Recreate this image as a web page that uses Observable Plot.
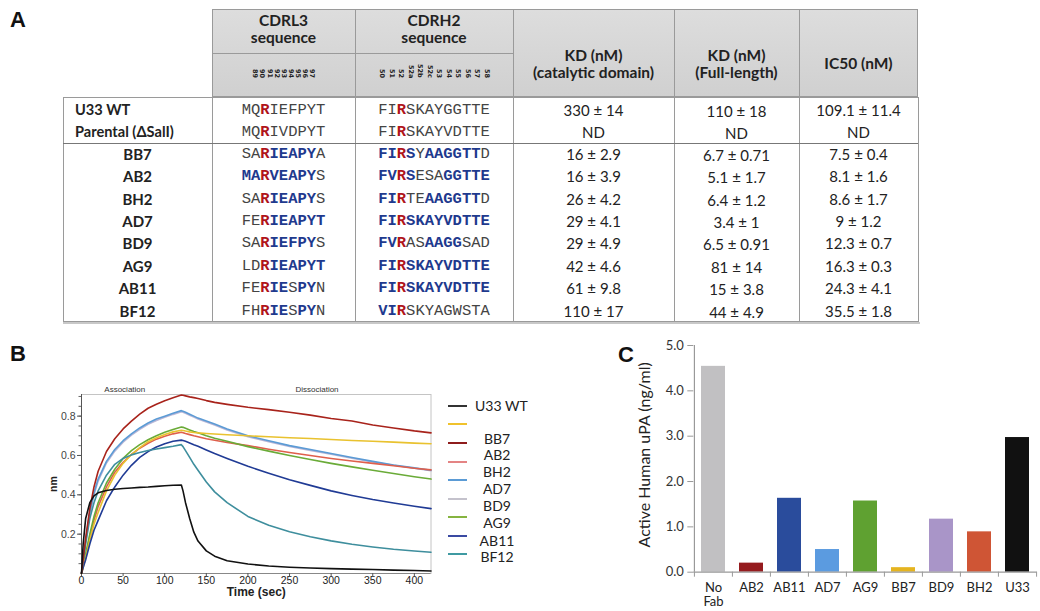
<!DOCTYPE html>
<html><head><meta charset="utf-8">
<script src="https://cdn.jsdelivr.net/npm/d3@7"></script>
<script src="https://cdn.jsdelivr.net/npm/@observablehq/plot@0.6"></script>
<style>
body{margin:0;background:#fff;}
#root{position:relative;width:1040px;height:611px;overflow:hidden;font-family:Lato,"Open Sans",sans-serif;color:#222;}
.abs{position:absolute;box-sizing:border-box;}
.letter{position:absolute;font-family:Arial,"Liberation Sans",sans-serif;font-weight:bold;font-size:22px;color:#111;line-height:1;}
.hdr{position:absolute;box-sizing:border-box;text-align:center;font-weight:bold;font-size:15.5px;line-height:17px;color:#222;}
.txt{position:absolute;height:22px;line-height:22px;white-space:nowrap;}
.seq{font-family:"Liberation Mono","Courier New",monospace;font-size:15.5px;color:#444;text-align:center;}
.r{color:#b0141b;font-weight:bold;}
.b{color:#1f3a8e;font-weight:bold;}
.num{display:inline-block;font-family:"DejaVu Sans",sans-serif;font-weight:bold;font-size:6.5px;writing-mode:vertical-rl;color:#222;line-height:1;}
.leg{position:absolute;font-family:Lato,"Open Sans",sans-serif;font-size:14px;color:#222;line-height:1;}
</style></head><body><div id="root"></div><script>
// ---------- Panel A data ----------
const clones = ["U33 WT","Parental (ΔSalI)","BB7","AB2","BH2","AD7","BD9","AG9","AB11","BF12"];
const cdrl3 = ["MQ[R]IEFPYT","MQ[R]IVDPYT","SA[R]{IEAPY}A","{MA}[R]{VEAPY}S","SA[R]{IEAPY}S","FE[R]{IEAPYT}","SA[R]{IEFPY}S","LD[R]{IEAPYT}","FE[R]{IE}S{PY}N","FH[R]{IE}S{PY}N"];
const cdrh2 = ["FI[R]SKAYGGTTE","FI[R]SKAYVDTTE","{FI}[R]{S}Y{AAGGTT}D","{FV}[R]{S}ESA{GGTTE}","{FI}[R]TE{AAGGTT}D","{FI}[R]{SKAYVDTTE}","{FV}[R]AS{AAGG}SAD","{FI}[R]{SKAYVDTTE}","{FI}[R]{SKAYVDTTE}","{VI}[R]SKYAGWSTA"];
const kdCatalytic = ["330 ± 14","ND","16 ± 2.9","16 ± 3.9","26 ± 4.2","29 ± 4.1","29 ± 4.9","42 ± 4.6","61 ± 9.8","110 ± 17"];
const kdFull = ["110 ± 18","ND","6.7 ± 0.71","5.1 ± 1.7","6.4 ± 1.2","3.4 ± 1","6.5 ± 0.91","81 ± 14","15 ± 3.8","44 ± 4.9"];
const ic50 = ["109.1 ± 11.4","ND","7.5 ± 0.4","8.1 ± 1.6","8.6 ± 1.7","9 ± 1.2","12.3 ± 0.7","16.3 ± 0.3","24.3 ± 4.1","35.5 ± 1.8"];
const l3Numbers = ["89","90","91","92","93","94","95","96","97"];
const h2Numbers = ["50","51","52","52a","52b","52c","53","54","55","56","57","58"];
const headers = ["CDRL3<br>sequence","CDRH2<br>sequence","KD (nM)<br>(catalytic domain)","KD (nM)<br>(Full-length)","IC50 (nM)"];

// ---------- Panel B data ----------
const times = [0,2,5,10,15,20,30,40,50,60,70,80,90,100,110,120,122,125,130,135,140,150,160,175,200,225,250,275,300,325,350,375,400,420];
const curveNames = ["AD7","BH2","AB2","AG9","Yellow","AB11","BF12","BB7","U33 WT"];
const curveColors = ["#b9b6d6","#5b9bd5","#df5f4c","#6aab38","#e9c22f","#203b95","#3e8e9d","#a8231b","#111111"];
const curveAD7 = [0,0.065,0.165,0.30,0.40,0.47,0.562,0.622,0.668,0.703,0.733,0.758,0.778,0.794,0.809,0.822,0.82,0.815,0.805,0.795,0.785,0.77,0.755,0.73,0.695,0.67,0.646,0.626,0.606,0.586,0.567,0.55,0.535,0.522];
const curveBH2 = [0,0.07,0.17,0.31,0.41,0.48,0.57,0.63,0.675,0.71,0.74,0.765,0.785,0.80,0.815,0.828,0.825,0.82,0.81,0.80,0.79,0.775,0.76,0.735,0.70,0.675,0.65,0.63,0.61,0.59,0.57,0.552,0.537,0.525];
const curveAB2 = [0,0.04,0.09,0.19,0.27,0.34,0.44,0.515,0.565,0.605,0.637,0.662,0.683,0.698,0.71,0.718,0.716,0.712,0.706,0.70,0.695,0.685,0.677,0.666,0.65,0.632,0.615,0.60,0.585,0.572,0.56,0.548,0.535,0.527];
const curveAG9 = [0,0.04,0.10,0.20,0.29,0.36,0.46,0.53,0.585,0.625,0.655,0.68,0.70,0.718,0.732,0.745,0.743,0.738,0.73,0.722,0.715,0.70,0.688,0.672,0.645,0.622,0.60,0.58,0.56,0.542,0.525,0.508,0.492,0.48];
const curveYellow = [0,0.03,0.08,0.17,0.25,0.31,0.42,0.50,0.56,0.605,0.64,0.67,0.69,0.707,0.72,0.728,0.727,0.724,0.72,0.717,0.715,0.712,0.709,0.705,0.70,0.695,0.69,0.686,0.681,0.676,0.672,0.668,0.663,0.66];
const curveAB11 = [0,0.03,0.07,0.15,0.22,0.27,0.37,0.44,0.50,0.55,0.59,0.62,0.643,0.66,0.672,0.678,0.676,0.672,0.664,0.655,0.647,0.628,0.61,0.585,0.545,0.51,0.477,0.448,0.42,0.397,0.376,0.358,0.342,0.33];
const curveBF12 = [0,0.06,0.15,0.28,0.36,0.42,0.50,0.555,0.585,0.603,0.615,0.625,0.633,0.64,0.647,0.655,0.645,0.625,0.59,0.555,0.525,0.465,0.415,0.36,0.29,0.245,0.212,0.187,0.166,0.149,0.135,0.123,0.114,0.108];
const curveBB7 = [0,0.07,0.18,0.33,0.44,0.52,0.62,0.685,0.735,0.775,0.81,0.84,0.86,0.878,0.893,0.907,0.906,0.903,0.898,0.894,0.89,0.879,0.87,0.86,0.845,0.833,0.82,0.805,0.788,0.775,0.755,0.74,0.725,0.715];
const curveU33 = [0,0.15,0.28,0.36,0.395,0.41,0.422,0.428,0.432,0.435,0.438,0.44,0.443,0.446,0.449,0.45,0.42,0.36,0.28,0.21,0.165,0.115,0.088,0.065,0.048,0.038,0.032,0.028,0.025,0.022,0.02,0.017,0.015,0.013];
const curveValues = [curveAD7,curveBH2,curveAB2,curveAG9,curveYellow,curveAB11,curveBF12,curveBB7,curveU33];
const xTicksB = [0,50,100,150,200,250,300,350,400];
const yTicksB = [0.2,0.4,0.6,0.8];
const yMinorB = [0.05,0.1,0.15,0.2,0.25,0.3,0.35,0.4,0.45,0.5,0.55,0.6,0.65,0.7,0.75,0.8,0.85,0.9];
const phaseLabels = [{t:52,label:"Association"},{t:283,label:"Dissociation"}];
const legendLabels = ["U33 WT","BB7","AB2","BH2","AD7","BD9","AG9","AB11","BF12"];
const legendColors = ["#333333","#f0c22c","#8e1c1c","#e48484","#5b9bd5","#c4c2cc","#86b440","#3a4aa2","#3f9aa2"];

// ---------- Panel C data ----------
const barCats = ["No Fab","AB2","AB11","AD7","AG9","BB7","BD9","BH2","U33"];
const barValues = [4.54,0.20,1.63,0.50,1.57,0.10,1.17,0.89,2.97];
const barColors = ["#c1c0c2","#951b1e","#2a4c9c","#5b9be0","#5fa131","#e5b420","#a995c8","#cf5535","#111111"];
const yTicksC = [0,1,2,3,4,5];

// ---------- build ----------
const root = document.getElementById("root");
function add(tag, cls, css, html){const e=document.createElement(tag); if(cls) e.className=cls; Object.assign(e.style,css||{}); if(html!=null) e.innerHTML=html; root.appendChild(e); return e;}
function seqHtml(s){return s.replace(/\[([A-Z]+)\]/g,'<span class="r">$1</span>').replace(/\{([A-Z]+)\}/g,'<span class="b">$1</span>');}

add("div","letter",{left:"10px",top:"9px"},"A");
add("div","letter",{left:"10px",top:"343px"},"B");
add("div","letter",{left:"618px",top:"344px"},"C");

const colX = [63,212,355,513,674,799,918];
const hTop = 9, hMid = 53, bTop = 97, sep = 143, bBot = 322;
const rowC = [109.5,132,153.5,176,198.5,221,243.3,265.7,288.2,310.5];
const lineC = "#9a9a9a";
add("div","abs",{left:colX[1]+"px",top:hTop+"px",width:(colX[6]-colX[1])+"px",height:(bTop-hTop)+"px",background:"linear-gradient(#dddddd,#d0d0d0)",border:"1px solid "+lineC});
for(let i=2;i<6;i++) add("div","abs",{left:colX[i]+"px",top:hTop+"px",width:"1px",height:(bTop-hTop)+"px",background:lineC});
add("div","abs",{left:colX[1]+"px",top:hMid+"px",width:(colX[3]-colX[1])+"px",height:"1px",background:lineC});
add("div","hdr",{left:colX[1]+"px",top:"12px",width:(colX[2]-colX[1])+"px"},headers[0]);
add("div","hdr",{left:colX[2]+"px",top:"12px",width:(colX[3]-colX[2])+"px"},headers[1]);
add("div","hdr",{left:colX[3]+"px",top:"47px",width:(colX[4]-colX[3])+"px"},headers[2]);
add("div","hdr",{left:colX[4]+"px",top:"47px",width:(colX[5]-colX[4])+"px"},headers[3]);
add("div","hdr",{left:colX[5]+"px",top:"55px",width:(colX[6]-colX[5])+"px"},headers[4]);
const n1 = add("div","abs",{left:colX[1]+"px",top:"62px",width:(colX[2]-colX[1])+"px",textAlign:"center"});
n1.innerHTML = l3Numbers.map(n=>`<span class="num" style="margin:0 0.3px">${n}</span>`).join("");
const n2 = add("div","abs",{left:colX[2]+"px",top:"62px",width:(colX[3]-colX[2])+"px",textAlign:"center"});
n2.innerHTML = h2Numbers.map(n=>`<span class="num" style="margin:0 1.5px">${n}</span>`).join("");
add("div","abs",{left:colX[0]+"px",top:bTop+"px",width:(colX[6]-colX[0]+1)+"px",height:(bBot-bTop)+"px",border:"1px solid "+lineC});
add("div","abs",{left:colX[0]+"px",top:bBot+"px",width:(colX[6]-colX[0]+2)+"px",height:"2px",background:"#c8c8c8"});
for(let i=1;i<6;i++) add("div","abs",{left:colX[i]+"px",top:bTop+"px",width:"1px",height:(bBot-bTop)+"px",background:lineC});
add("div","abs",{left:colX[0]+"px",top:sep+"px",width:(colX[6]-colX[0])+"px",height:"1px",background:"#777"});
clones.forEach((c,i)=>{
  const y = (rowC[i]-11)+"px";
  if(i<2) add("div","txt",{left:"75px",top:y,fontWeight:"bold",fontSize:"14.6px"},c);
  else add("div","txt",{left:colX[0]+"px",top:y,width:(colX[1]-colX[0])+"px",textAlign:"center",fontWeight:"bold",fontSize:"15px"},c);
  add("div","txt seq",{left:colX[1]+"px",top:y,width:(colX[2]-colX[1])+"px"},seqHtml(cdrl3[i]));
  add("div","txt seq",{left:colX[2]+"px",top:y,width:(colX[3]-colX[2])+"px"},seqHtml(cdrh2[i]));
  add("div","txt",{left:colX[3]+"px",top:y,width:(colX[4]-colX[3])+"px",textAlign:"center",fontSize:"15px"},kdCatalytic[i]);
  add("div","txt",{left:colX[4]+"px",top:(rowC[i]-10)+"px",width:(colX[5]-colX[4])+"px",textAlign:"center",fontSize:"15px"},kdFull[i]);
  add("div","txt",{left:colX[5]+"px",top:y,width:(colX[6]-colX[5])+"px",textAlign:"center",fontSize:"15px"},ic50[i]);
});

// ---------- Panel B ----------
const rowsB = curveNames.flatMap((n,i)=>times.map((t,j)=>({series:n,t,v:curveValues[i][j]})));
const plotB = Plot.plot({
  width:440, height:240, marginLeft:81, marginRight:9.5, marginTop:24, marginBottom:37,
  style:{fontFamily:"Arial, 'Liberation Sans', sans-serif", fontSize:"10.5px", color:"#333", background:"transparent", overflow:"visible"},
  x:{domain:[0,420]},
  y:{domain:[0,0.91]},
  color:{domain:curveNames, range:curveColors},
  marks:[
    Plot.frame({stroke:"#c4c4c4"}),
    Plot.ruleX([0],{stroke:"#555"}),
    Plot.ruleY([0],{stroke:"#888"}),
    Plot.axisY({ticks:yMinorB, tickSize:2.5, tickFormat:()=> "", label:null, stroke:"#666"}),
    Plot.axisY({ticks:yTicksB, tickSize:4, tickPadding:2, tickFormat:d=>d.toFixed(1), label:null, stroke:"#555", fill:"#444"}),
    Plot.axisX({ticks:xTicksB, tickSize:3, tickPadding:0, label:null, stroke:"#555", fill:"#222", fontSize:10.5}),
    Plot.line(rowsB,{x:"t", y:"v", z:"series", stroke:"series", strokeWidth:1.6}),
    Plot.text(phaseLabels,{x:"t", text:"label", frameAnchor:"top", dy:-8, fontSize:8, fill:"#333"}),
    Plot.text(["Time (sec)"],{frameAnchor:"bottom", dy:22, fontSize:12, fontWeight:"bold", fill:"#222"}),
    Plot.text(["nm"],{frameAnchor:"left", dx:-28, rotate:-90, textAnchor:"middle", fontSize:10.5, fontWeight:"bold", fill:"#222"})
  ]
});
plotB.style.position="absolute"; plotB.style.left="0px"; plotB.style.top="370px";
root.appendChild(plotB);

const legLineY = [406,424,443,462,480,499,517,536,554];
const legLabelY = [406,439,455,472,489,506,523,541,557];
legendColors.forEach((c,i)=>{
  add("div","abs",{left:"448px",top:(legLineY[i]-1)+"px",width:"19px",height:"2px",background:c});
});
legendLabels.forEach((l,i)=>{
  if(i===0) add("div","leg",{left:"475px",top:(legLabelY[i]-7)+"px"},l);
  else add("div","leg",{left:"472px",top:(legLabelY[i]-7)+"px",width:"50px",textAlign:"center"},l);
});

// ---------- Panel C ----------
const barData = barCats.map((c,i)=>({cat:c,value:barValues[i]}));
const plotC = Plot.plot({
  width:400, height:281, marginLeft:53.3, marginRight:3.3, marginTop:15, marginBottom:39.3,
  style:{fontFamily:"Lato, 'Open Sans', sans-serif", fontSize:"13px", color:"#333", background:"transparent", overflow:"visible"},
  x:{domain:barCats, paddingInner:0.37, paddingOuter:0.185},
  y:{domain:[0,5]},
  color:{domain:barCats, range:barColors},
  marks:[
    Plot.barY(barData,{x:"cat", y:"value", fill:"cat"}),
    Plot.ruleY([0],{stroke:"#999", strokeWidth:1.2}),
    Plot.ruleX(barCats,{x:d=>d, y1:0, y2:0, insetBottom:-5, dx:-19.08, stroke:"#999"}),
    Plot.ruleX([barCats[barCats.length-1]],{x:d=>d, y1:0, y2:0, insetBottom:-5, dx:19.08, stroke:"#999"}),
    Plot.axisY({ticks:yTicksC, tickSize:6, tickPadding:4, tickFormat:d=>d.toFixed(1), label:null, stroke:"#999", fill:"#333", fontSize:13}),
    Plot.ruleX([barCats[0]],{x:d=>d, y1:0, y2:5, dx:-19.08, stroke:"#999", strokeWidth:1.2}),
    Plot.axisX({tickSize:0, tickPadding:9, lineHeight:1.12, tickFormat:d=>d==="No Fab"?"No\nFab":d, label:null, fill:"#222", fontSize:13}),
    Plot.text(["Active Human uPA (ng/ml)"],{frameAnchor:"left", dx:-49, dy:-4, rotate:-90, textAnchor:"middle", fontSize:16, fill:"#222"})
  ]
});
plotC.style.position="absolute"; plotC.style.left="640px"; plotC.style.top="330px";
root.appendChild(plotC);
</script></body></html>
